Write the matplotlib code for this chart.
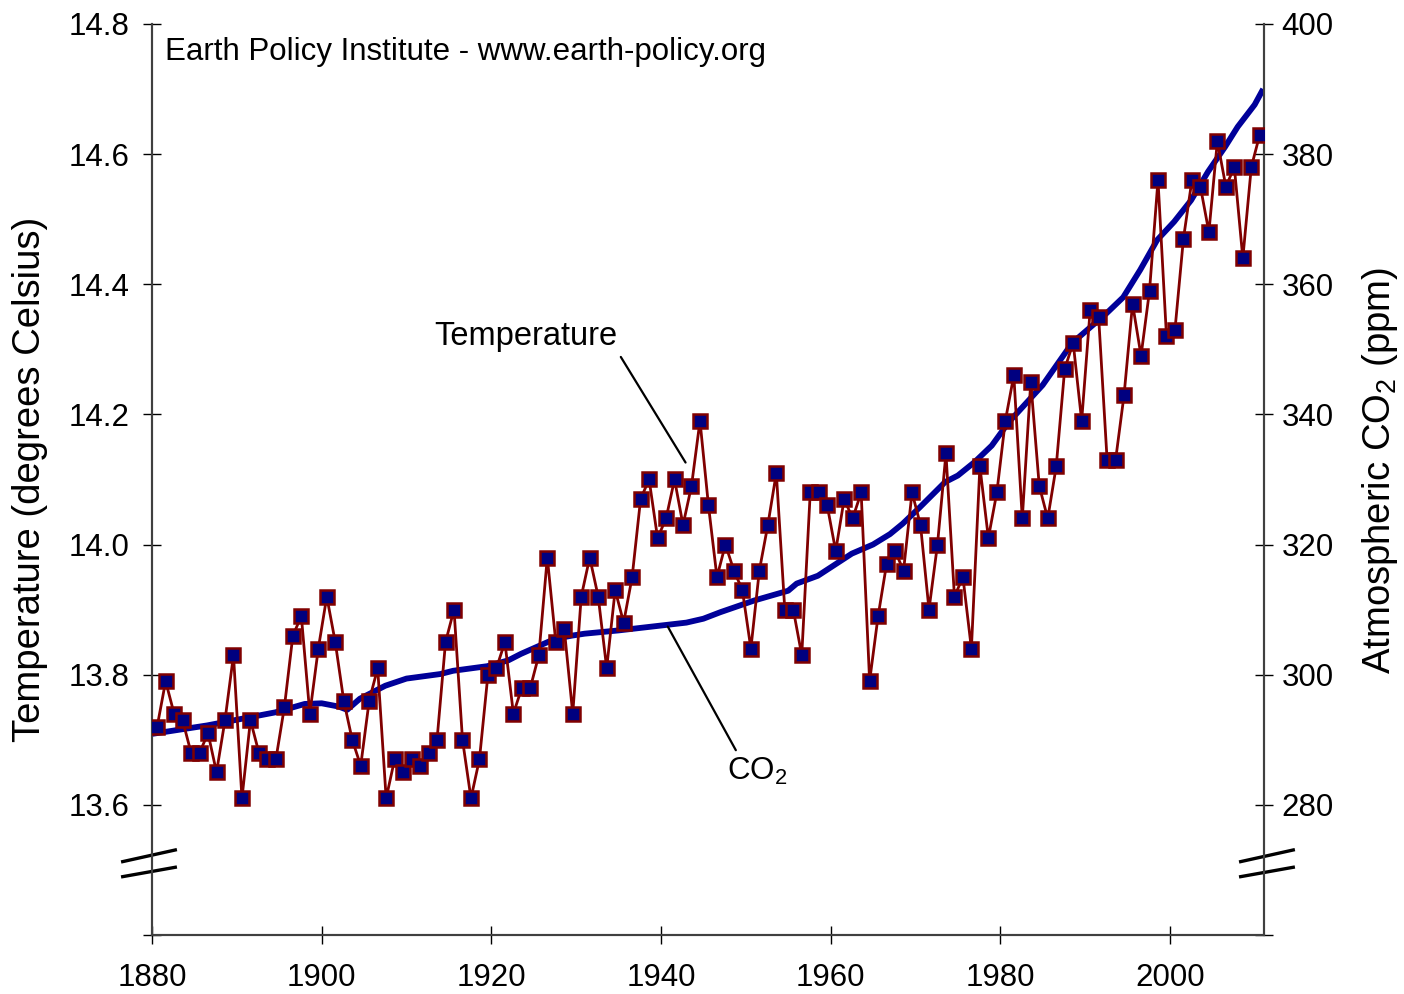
import numpy as np
import matplotlib
matplotlib.use("Agg")
import matplotlib.pyplot as plt

plt.rcParams['font.family'] = ['Liberation Sans', 'DejaVu Sans']
plt.rcParams['mathtext.fontset'] = 'custom'
plt.rcParams['mathtext.rm'] = 'Liberation Sans'
plt.rcParams['mathtext.default'] = 'regular'

# global average temperature, 1880-2010 (degrees C)
years = np.arange(1880, 2011)
temp = [13.72, 13.79, 13.74, 13.73, 13.68, 13.68, 13.71, 13.65, 13.73, 13.83,
        13.61, 13.73, 13.68, 13.67, 13.67, 13.75, 13.86, 13.89, 13.74, 13.84,
        13.92, 13.85, 13.76, 13.70, 13.66, 13.76, 13.81, 13.61, 13.67, 13.65,
        13.67, 13.66, 13.68, 13.70, 13.85, 13.90, 13.70, 13.61, 13.67, 13.80,
        13.81, 13.85, 13.74, 13.78, 13.78, 13.83, 13.98, 13.85, 13.87, 13.74,
        13.92, 13.98, 13.92, 13.81, 13.93, 13.88, 13.95, 14.07, 14.10, 14.01,
        14.04, 14.10, 14.03, 14.09, 14.19, 14.06, 13.95, 14.00, 13.96, 13.93,
        13.84, 13.96, 14.03, 14.11, 13.90, 13.90, 13.83, 14.08, 14.08, 14.06,
        13.99, 14.07, 14.04, 14.08, 13.79, 13.89, 13.97, 13.99, 13.96, 14.08,
        14.03, 13.90, 14.00, 14.14, 13.92, 13.95, 13.84, 14.12, 14.01, 14.08,
        14.19, 14.26, 14.04, 14.25, 14.09, 14.04, 14.12, 14.27, 14.31, 14.19,
        14.36, 14.35, 14.13, 14.13, 14.23, 14.37, 14.29, 14.39, 14.56, 14.32,
        14.33, 14.47, 14.56, 14.55, 14.48, 14.62, 14.55, 14.58, 14.44, 14.58,
        14.63]

# atmospheric CO2 (ppm), smoothed curve
co2_years = [1880, 1882.5, 1886.5, 1890.5, 1894.5, 1898, 1900, 1902, 1903, 1904.5,
             1907.5, 1910, 1914, 1915.5, 1919.5, 1922, 1923.5, 1927.5, 1929.5, 1931,
             1935, 1937, 1939, 1943, 1945, 1947, 1951, 1955, 1956, 1958.5,
             1962.5, 1965, 1967, 1968.5, 1970.5, 1973.5, 1975, 1977, 1979, 1981,
             1985, 1988.5, 1992.5, 1994.5, 1996.5, 1998.5, 2000.5, 2002.5, 2004.5, 2006.5,
             2008, 2010, 2011]
co2 = [290.9, 291.4, 292.2, 293.2, 294.2, 295.5, 295.6, 295.1, 294.6, 296.3,
       298.3, 299.4, 300.1, 300.6, 301.3, 302.2, 303.2, 305.5, 306.0, 306.3,
       306.8, 307.1, 307.4, 308.0, 308.6, 309.6, 311.4, 312.9, 314.0, 315.2,
       318.6, 320.0, 321.6, 323.2, 325.7, 329.6, 330.6, 332.7, 335.2, 338.8,
       344.5, 351.0, 355.5, 358.0, 362.2, 366.8, 369.6, 372.9, 377.3, 381.1,
       384.2, 387.6, 390.0]

temp_ticks = [13.4, 13.6, 13.8, 14.0, 14.2, 14.4, 14.6, 14.8]
temp_labels = ['', '13.6', '13.8', '14.0', '14.2', '14.4', '14.6', '14.8']
co2_ticks = [260, 280, 300, 320, 340, 360, 380, 400]
co2_labels = ['', '280', '300', '320', '340', '360', '380', '400']
year_ticks = [1880, 1900, 1920, 1940, 1960, 1980, 2000]

fig = plt.figure(figsize=(14.04, 9.94), dpi=100)
ax = fig.add_axes([0.1083, 0.0594, 0.792, 0.9165])
ax2 = ax.twinx()

ax2.plot(co2_years, co2, color='#000099', lw=4.2, solid_capstyle='butt', zorder=2)
ax.plot(years + 0.6, temp, color='#800000', lw=2.0, marker='s', ms=9.5,
        mfc='#000080', mec='#800000', mew=1.8, zorder=3)
ax.set_zorder(ax2.get_zorder() + 1)
ax.patch.set_visible(False)

ax.set_xlim(1880, 2011.1)
ax.set_ylim(13.4, 14.8)
ax2.set_ylim(260, 400)

ax.set_xticks(year_ticks)
ax.set_yticks(temp_ticks)
ax.set_yticklabels(temp_labels)
ax2.set_yticks(co2_ticks)
ax2.set_yticklabels(co2_labels)

for a in (ax, ax2):
    a.spines['top'].set_visible(False)
    for s in a.spines.values():
        s.set_color('#404040')
        s.set_linewidth(1.5)
ax.tick_params(axis='both', direction='inout', length=13, width=1, labelsize=22.5)
ax.tick_params(axis='x', pad=14)
ax.tick_params(axis='y', pad=10)
ax2.tick_params(axis='y', direction='inout', length=13, width=1, labelsize=22.5, pad=6)

ax.set_ylabel('Temperature (degrees Celsius)', fontsize=27.5)
ax2.set_ylabel('Atmospheric CO$_2$ (ppm)', fontsize=27.5)
ax.yaxis.set_label_coords(-0.094, 0.5)
ax2.yaxis.set_label_coords(1.086, 0.51)

ax.text(0.0117, 0.969, 'Earth Policy Institute - www.earth-policy.org',
        transform=ax.transAxes, fontsize=22.5, va='center', ha='left')

ax.annotate('Temperature', xy=(1942.9, 14.126), xytext=(1924.1, 14.32),
            fontsize=23.5, ha='center', va='center',
            arrowprops=dict(arrowstyle='-', color='black', lw=1.6,
                            relpos=(1.0, 0.0), shrinkA=2, shrinkB=0))
ax2.annotate('CO$_2$', xy=(1940.8, 307.4), xytext=(1951.3, 285.2),
             fontsize=22.5, ha='center', va='center',
             arrowprops=dict(arrowstyle='-', color='black', lw=1.6,
                             relpos=(0.2, 1.0), shrinkA=2, shrinkB=0))

# axis break marks
for x0, x1 in [(-0.0264, 0.0209), (0.979, 1.0263)]:
    ax.plot([x0, x1], [0.0805, 0.0933], transform=ax.transAxes, color='black',
            lw=2.4, clip_on=False)
    ax.plot([x0, x1], [0.064, 0.0743], transform=ax.transAxes, color='black',
            lw=2.4, clip_on=False)

fig.savefig('out.png', dpi=100)
